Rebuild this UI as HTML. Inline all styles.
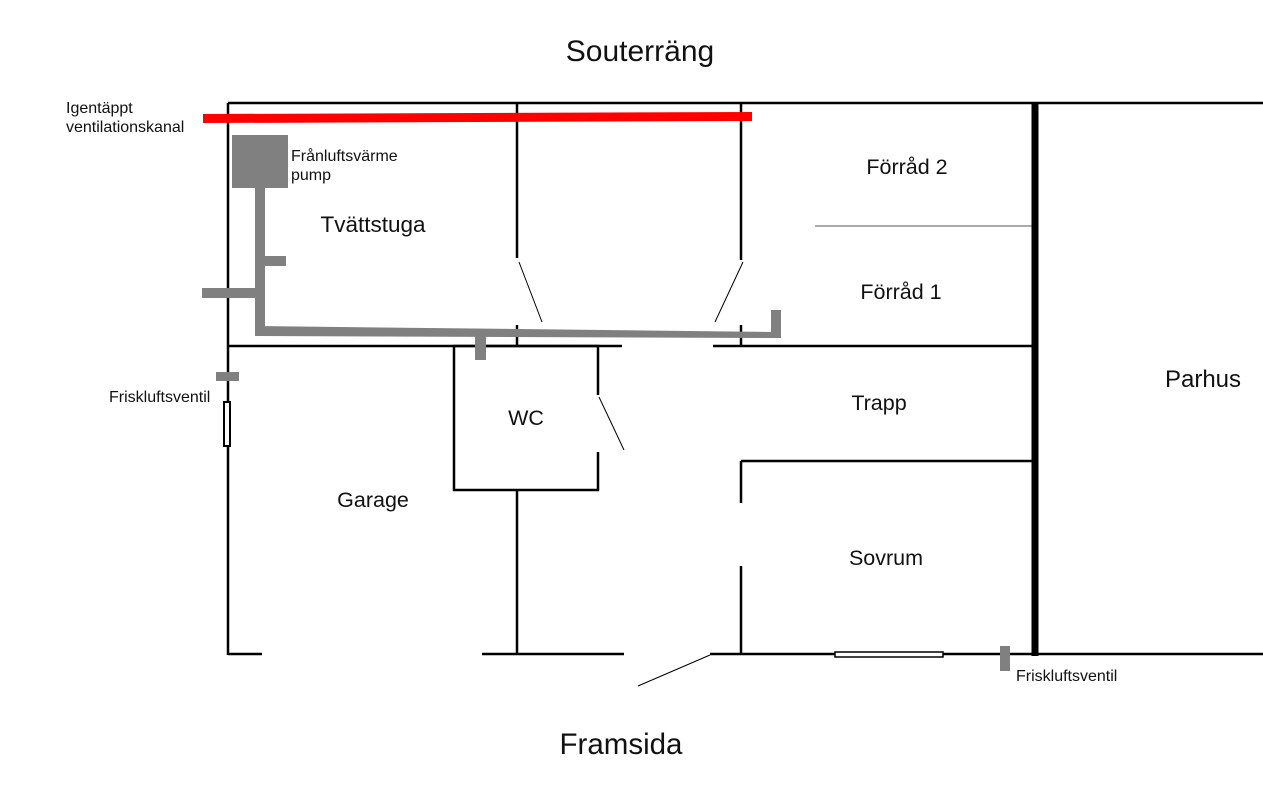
<!DOCTYPE html>
<html><head><meta charset="utf-8"><style>
body{margin:0;background:#fff}
svg{display:block}
text{font-family:"Liberation Sans",sans-serif;fill:#111}
</style></head><body>
<svg width="1263" height="790" viewBox="0 0 1263 790" xmlns="http://www.w3.org/2000/svg">
<g stroke="#000" stroke-width="2.5" fill="none">
<line x1="228" y1="103" x2="1263" y2="103"/>
<line x1="228" y1="103" x2="228" y2="655"/>
<line x1="517" y1="103" x2="517" y2="258"/>
<line x1="517" y1="325" x2="517" y2="346"/>
<line x1="517" y1="490" x2="517" y2="654"/>
<line x1="741" y1="103" x2="741" y2="260"/>
<line x1="741" y1="325" x2="741" y2="346"/>
<line x1="228" y1="346" x2="622" y2="346"/>
<line x1="713" y1="346" x2="1035" y2="346"/>
<polyline points="598,395 598,346 454,346 454,490 598,490 598,452"/>
<line x1="741" y1="461" x2="1035" y2="461"/>
<line x1="741" y1="461" x2="741" y2="503"/>
<line x1="741" y1="566" x2="741" y2="654"/>
<line x1="228" y1="654" x2="262" y2="654"/>
<line x1="482" y1="654" x2="624" y2="654"/>
<line x1="710" y1="654" x2="1263" y2="654"/>
</g>
<g stroke="#000" stroke-width="1" fill="none">
<line x1="519" y1="262" x2="542" y2="322"/>
<line x1="743" y1="262" x2="715" y2="322"/>
<line x1="599" y1="397" x2="624" y2="450"/>
<line x1="710" y1="655" x2="638" y2="686"/>
</g>
<line x1="815" y1="226" x2="1032" y2="226" stroke="#777" stroke-width="1.2"/>
<line x1="1035" y1="103" x2="1035" y2="656" stroke="#000" stroke-width="7"/>
<rect x="224" y="402" width="6" height="44" fill="#fff" stroke="#000" stroke-width="2"/>
<rect x="835" y="652" width="108" height="5" fill="#fff" stroke="#000" stroke-width="1.5"/>
<polygon points="203,114 752,112 752,121 203,123" fill="#f00"/>
<g fill="#808080">
<rect x="232" y="135" width="56" height="53"/>
<rect x="255" y="186" width="10" height="150"/>
<rect x="263" y="256" width="23" height="10"/>
<rect x="202" y="288" width="58" height="10"/>
<polygon points="255,326 777,332 777,338 255,336"/>
<rect x="771" y="310" width="10" height="28"/>
<rect x="475" y="333" width="11" height="27"/>
<rect x="216" y="372" width="23" height="9"/>
<rect x="1000" y="646" width="10" height="25"/>
</g>
<text x="640" y="61" font-size="30" text-anchor="middle">Souterräng</text>
<text x="621" y="754" font-size="29.5" text-anchor="middle">Framsida</text>
<g font-size="16">
<text x="66" y="113">Igentäppt</text>
<text x="66" y="132">ventilationskanal</text>
<text x="291" y="161">Frånluftsvärme</text>
<text x="291" y="180">pump</text>
<text x="109" y="402">Friskluftsventil</text>
<text x="1016" y="681">Friskluftsventil</text>
</g>
<g font-size="21.5" text-anchor="middle">
<text x="373" y="232" font-size="22.5">Tvättstuga</text>
<text x="907" y="174">Förråd 2</text>
<text x="901" y="299">Förråd 1</text>
<text x="879" y="410">Trapp</text>
<text x="526" y="425">WC</text>
<text x="373" y="507">Garage</text>
<text x="886" y="565">Sovrum</text>
<text x="1203" y="387" font-size="24">Parhus</text>
</g>
</svg>
</body></html>
